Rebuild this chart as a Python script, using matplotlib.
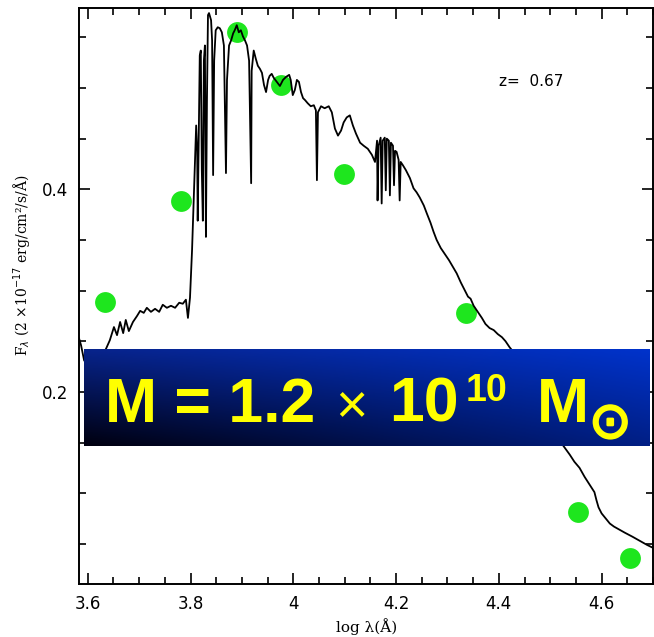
import numpy as np
import matplotlib
matplotlib.use('Agg')
import matplotlib.pyplot as plt
import matplotlib.patheffects as pe
from matplotlib.ticker import MultipleLocator

# model spectrum (log wavelength, flux)
spec_logwl = [3.583, 3.587, 3.593, 3.608, 3.624, 3.636, 3.643, 3.651, 3.657, 3.663,
              3.669, 3.674, 3.680, 3.688, 3.696, 3.702, 3.709, 3.715, 3.723, 3.731,
              3.739, 3.746, 3.754, 3.762, 3.770, 3.778, 3.785, 3.791, 3.795, 3.799,
              3.803, 3.807, 3.811, 3.813, 3.814, 3.818, 3.820, 3.822, 3.824, 3.826,
              3.828, 3.830, 3.832, 3.834, 3.836, 3.840, 3.842, 3.844, 3.846, 3.849,
              3.853, 3.857, 3.861, 3.865, 3.869, 3.871, 3.875, 3.879, 3.883, 3.886,
              3.890, 3.894, 3.898, 3.902, 3.906, 3.910, 3.914, 3.918, 3.919, 3.923,
              3.927, 3.931, 3.935, 3.939, 3.943, 3.947, 3.951, 3.954, 3.958, 3.962,
              3.968, 3.974, 3.980, 3.986, 3.992, 3.995, 3.999, 4.003, 4.007, 4.011,
              4.015, 4.019, 4.023, 4.028, 4.034, 4.040, 4.044, 4.046, 4.048, 4.054,
              4.061, 4.069, 4.075, 4.081, 4.087, 4.093, 4.098, 4.104, 4.110, 4.116,
              4.122, 4.130, 4.137, 4.145, 4.153, 4.159, 4.163, 4.164, 4.166, 4.170,
              4.172, 4.174, 4.178, 4.180, 4.182, 4.186, 4.188, 4.190, 4.194, 4.196,
              4.198, 4.201, 4.205, 4.207, 4.209, 4.213, 4.219, 4.227, 4.234, 4.240,
              4.246, 4.254, 4.260, 4.267, 4.273, 4.279, 4.287, 4.295, 4.303, 4.310,
              4.318, 4.326, 4.334, 4.340, 4.345, 4.351, 4.359, 4.367, 4.374, 4.382,
              4.390, 4.398, 4.406, 4.413, 4.421, 4.429, 4.441, 4.460, 4.479, 4.499,
              4.518, 4.528, 4.538, 4.547, 4.557, 4.567, 4.577, 4.586, 4.590, 4.594,
              4.600, 4.608, 4.616, 4.624, 4.631, 4.645, 4.660, 4.674, 4.688, 4.700]
spec_flux = [0.253, 0.246, 0.231, 0.223, 0.231, 0.243, 0.251, 0.264, 0.256, 0.269,
             0.258, 0.271, 0.260, 0.269, 0.275, 0.280, 0.278, 0.283, 0.279, 0.282,
             0.279, 0.286, 0.283, 0.285, 0.283, 0.288, 0.287, 0.291, 0.273, 0.293,
             0.340, 0.402, 0.463, 0.438, 0.369, 0.532, 0.537, 0.419, 0.369, 0.527,
             0.542, 0.353, 0.488, 0.572, 0.574, 0.567, 0.547, 0.414, 0.527, 0.557,
             0.560, 0.559, 0.555, 0.542, 0.416, 0.508, 0.542, 0.547, 0.554, 0.557,
             0.562, 0.555, 0.557, 0.551, 0.547, 0.542, 0.527, 0.406, 0.517, 0.537,
             0.529, 0.522, 0.519, 0.515, 0.503, 0.496, 0.508, 0.512, 0.514, 0.510,
             0.506, 0.502, 0.508, 0.511, 0.513, 0.508, 0.493, 0.498, 0.508, 0.506,
             0.496, 0.490, 0.488, 0.485, 0.482, 0.483, 0.478, 0.409, 0.476, 0.482,
             0.480, 0.482, 0.476, 0.460, 0.453, 0.458, 0.466, 0.471, 0.473, 0.463,
             0.455, 0.446, 0.443, 0.440, 0.434, 0.427, 0.448, 0.389, 0.443, 0.451,
             0.386, 0.448, 0.451, 0.399, 0.450, 0.448, 0.394, 0.446, 0.443, 0.404,
             0.438, 0.437, 0.429, 0.389, 0.427, 0.424, 0.419, 0.411, 0.401, 0.397,
             0.392, 0.384, 0.376, 0.367, 0.358, 0.350, 0.342, 0.336, 0.330, 0.324,
             0.317, 0.308, 0.300, 0.294, 0.292, 0.285, 0.279, 0.273, 0.267, 0.263,
             0.261, 0.257, 0.254, 0.250, 0.244, 0.239, 0.226, 0.207, 0.187, 0.167,
             0.152, 0.145, 0.138, 0.131, 0.125, 0.116, 0.108, 0.101, 0.093, 0.086,
             0.080, 0.075, 0.070, 0.067, 0.065, 0.061, 0.057, 0.053, 0.049, 0.046]

# photometry points
phot_logwl = [3.634, 3.781, 3.890, 3.976, 4.098, 4.336, 4.554, 4.655]
phot_flux = [0.289, 0.388, 0.555, 0.503, 0.415, 0.278, 0.081, 0.036]

W, H = 654, 637
fig = plt.figure(figsize=(W / 100, H / 100), dpi=100)

def fx(px):
    return px / W

def fy(py):
    return 1 - py / H

ax = fig.add_axes([fx(79), fy(584), fx(653) - fx(79), fy(8) - fy(584)])
ax.plot(phot_logwl, phot_flux, 'o', color='#1ee61e', ms=15, mec='none', zorder=1)
ax.plot(spec_logwl, spec_flux, color='black', lw=1.3, zorder=2)

ax.set_xlim(3.583, 4.70)
ax.set_ylim(0.0103, 0.579)
ax.xaxis.set_major_locator(MultipleLocator(0.2))
ax.xaxis.set_minor_locator(MultipleLocator(0.05))
ax.yaxis.set_major_locator(MultipleLocator(0.2))
ax.yaxis.set_minor_locator(MultipleLocator(0.05))
ax.xaxis.set_major_formatter(plt.FuncFormatter(lambda v, p: '%g' % round(v, 1)))
ax.tick_params(which='both', direction='in', top=True, right=True, width=1.2,
               labelsize=12, pad=8)
ax.tick_params(which='major', length=8)
ax.tick_params(which='minor', length=5)
for s in ax.spines.values():
    s.set_linewidth(1.4)

ax.text(4.40, 0.506, 'z=  0.67', fontsize=11, va='center')

fig.text(fx(367), fy(627), 'log λ(Å)', family='DejaVu Serif', fontsize=11,
         ha='center', va='center')
fig.text(fx(22), fy(265), 'F$_\\lambda$ (2 ×10$^{-17}$ erg/cm²/s/Å)',
         family='DejaVu Serif', fontsize=10, rotation=90, ha='center', va='center')

# banner with gradient
bax = fig.add_axes([fx(84), fy(446), fx(650) - fx(84), fy(349) - fy(446)])
tl = np.array([0.03, 0.14, 0.55])
tr = np.array([0.0, 0.20, 0.80])
bl = np.array([0.0, 0.0, 0.06])
br = np.array([0.0, 0.12, 0.52])
u = np.linspace(0, 1, 200)[None, :, None]
v = np.linspace(0, 1, 50)[:, None, None]
grad = (1 - v) * ((1 - u) * bl + u * br) + v * ((1 - u) * tl + u * tr)
bax.imshow(grad, extent=[0, 1, 0, 1], origin='lower', aspect='auto')
bax.axis('off')

yel = '#ffff00'
base = fy(422)
fig.text(fx(105), base, 'M = 1.2', color=yel, fontsize=45, weight='bold',
         family='Liberation Sans', va='baseline')
fig.text(fx(335), base, '×', color=yel, fontsize=40,
         family='Liberation Sans', va='baseline')
fig.text(fx(389), base, '10', color=yel, fontsize=45, weight='bold',
         family='Liberation Sans', va='baseline')
fig.text(fx(466), fy(401), '10', color=yel, fontsize=27, weight='bold',
         family='Liberation Sans', va='baseline')
fig.text(fx(537), base, 'M', color=yel, fontsize=45, weight='bold',
         family='Liberation Sans', va='baseline')
fig.text(fx(609), fy(424), '$\\odot$', color=yel, fontsize=36,
         ha='center', va='center',
         path_effects=[pe.withStroke(linewidth=1.8, foreground=yel,
                                     joinstyle='round', capstyle='round')])

fig.savefig('out.png', dpi=100)
